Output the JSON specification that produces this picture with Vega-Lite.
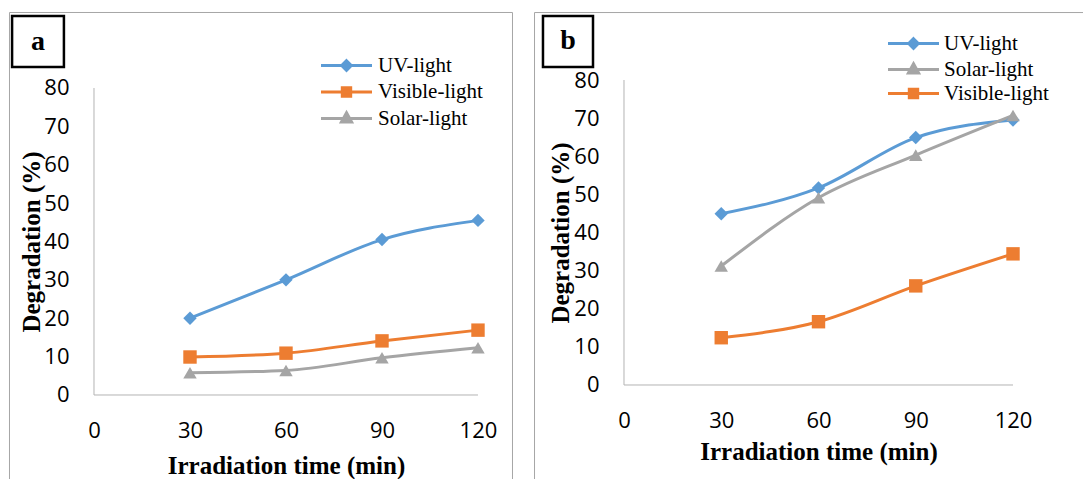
{
  "$schema": "https://vega.github.io/schema/vega-lite/v6.json",
  "padding": {"left": 8, "top": 11, "right": 0, "bottom": 0},
  "spacing": 21,
  "background": "white",
  "config": {"view": {"stroke": null}, "font": "Open Sans"},
  "data": {"values": [
    {"panel": "a", "series": "UV-light", "time": 30, "deg": 20.0},
    {"panel": "a", "series": "UV-light", "time": 60, "deg": 30.0},
    {"panel": "a", "series": "UV-light", "time": 90, "deg": 40.5},
    {"panel": "a", "series": "UV-light", "time": 120, "deg": 45.5},
    {"panel": "a", "series": "Visible-light", "time": 30, "deg": 9.9},
    {"panel": "a", "series": "Visible-light", "time": 60, "deg": 10.9},
    {"panel": "a", "series": "Visible-light", "time": 90, "deg": 14.1},
    {"panel": "a", "series": "Visible-light", "time": 120, "deg": 16.9},
    {"panel": "a", "series": "Solar-light", "time": 30, "deg": 5.8},
    {"panel": "a", "series": "Solar-light", "time": 60, "deg": 6.4},
    {"panel": "a", "series": "Solar-light", "time": 90, "deg": 9.7},
    {"panel": "a", "series": "Solar-light", "time": 120, "deg": 12.3},
    {"panel": "b", "series": "UV-light", "time": 30, "deg": 44.9},
    {"panel": "b", "series": "UV-light", "time": 60, "deg": 51.7},
    {"panel": "b", "series": "UV-light", "time": 90, "deg": 64.9},
    {"panel": "b", "series": "UV-light", "time": 120, "deg": 69.5},
    {"panel": "b", "series": "Solar-light", "time": 30, "deg": 31.2},
    {"panel": "b", "series": "Solar-light", "time": 60, "deg": 49.1},
    {"panel": "b", "series": "Solar-light", "time": 90, "deg": 60.3},
    {"panel": "b", "series": "Solar-light", "time": 120, "deg": 70.7},
    {"panel": "b", "series": "Visible-light", "time": 30, "deg": 12.4},
    {"panel": "b", "series": "Visible-light", "time": 60, "deg": 16.6},
    {"panel": "b", "series": "Visible-light", "time": 90, "deg": 26.0},
    {"panel": "b", "series": "Visible-light", "time": 120, "deg": 34.4}
  ]},
  "resolve": {"scale": {"x": "independent", "y": "independent", "color": "independent"}},
  "hconcat": [
    {
      "width": 504,
      "height": 468,
      "layer": [
        {
          "data": {"values": [{}]},
          "mark": {"type": "rule", "color": "#a6a6a6", "strokeWidth": 1},
          "encoding": {"x": {"datum": -26.41, "type": "quantitative"}, "y": {"datum": -22.15, "type": "quantitative"}, "y2": {"datum": 99.67}}
        },
        {
          "data": {"values": [{}]},
          "mark": {"type": "rule", "color": "#a6a6a6", "strokeWidth": 1},
          "encoding": {"x": {"datum": 130.78, "type": "quantitative"}, "y": {"datum": -22.15, "type": "quantitative"}, "y2": {"datum": 99.67}}
        },
        {
          "data": {"values": [{}]},
          "mark": {"type": "rule", "color": "#a6a6a6", "strokeWidth": 1},
          "encoding": {"y": {"datum": 99.67, "type": "quantitative"}, "x": {"datum": -26.41, "type": "quantitative"}, "x2": {"datum": 130.78}}
        },
        {
          "data": {"values": [{}]},
          "mark": {"type": "rule", "color": "#b3b3b3", "strokeWidth": 1},
          "encoding": {"x": {"datum": 0, "type": "quantitative"}, "y": {"datum": 0, "type": "quantitative"}, "y2": {"datum": 80}}
        },
        {
          "data": {"values": [{}]},
          "mark": {"type": "rule", "color": "#b3b3b3", "strokeWidth": 1},
          "encoding": {"y": {"datum": 0, "type": "quantitative"}, "x": {"datum": 0, "type": "quantitative"}, "x2": {"datum": 120}}
        },
        {
          "data": {"values": [{}]},
          "mark": {"type": "rect", "fill": "transparent", "stroke": "black", "strokeWidth": 2.5},
          "encoding": {"x": {"datum": -25.6, "type": "quantitative"}, "x2": {"datum": -9.4}, "y": {"datum": 98.76, "type": "quantitative"}, "y2": {"datum": 85.47}}
        },
        {
          "data": {"values": [{"label": "a"}]},
          "mark": {"type": "text", "font": "Liberation Serif", "fontWeight": "bold", "fontSize": 28, "align": "center", "baseline": "middle", "color": "black"},
          "encoding": {"text": {"field": "label"}, "x": {"datum": -17.5, "type": "quantitative"}, "y": {"datum": 92.0, "type": "quantitative"}}
        },
        {
          "transform": [{"filter": "datum.panel === 'a'"}],
          "mark": {"type": "line", "interpolate": "monotone", "strokeWidth": 3},
          "encoding": {
            "x": {"field": "time", "type": "quantitative",
              "scale": {"domain": [-26.5625, 130.94], "nice": false, "zero": false},
              "axis": {"values": [0, 30, 60, 90, 120], "offset": -85, "domain": false, "ticks": false, "grid": false,
                "labelFont": "Open Sans", "labelFontSize": 22, "labelColor": "black", "labelPadding": 25, "labelFlush": false, "labelOverlap": false,
                "title": "Irradiation time (min)", "titleFont": "Liberation Serif", "titleFontSize": 25, "titleFontWeight": "bold", "titleColor": "black", "titlePadding": 12, "titleX": 277}},
            "y": {"field": "deg", "type": "quantitative",
              "scale": {"domain": [-22.15, 99.8], "nice": false, "zero": false},
              "axis": {"values": [0, 10, 20, 30, 40, 50, 60, 70, 80], "offset": -85, "domain": false, "ticks": false, "grid": false,
                "labelFont": "Open Sans", "labelFontSize": 22, "labelColor": "black", "labelPadding": 25, "labelOverlap": false,
                "title": "Degradation (%)", "titleFont": "Liberation Serif", "titleFontSize": 25, "titleFontWeight": "bold", "titleColor": "black", "titlePadding": -1, "titleY": 229.5}},
            "color": {"field": "series", "type": "nominal",
              "scale": {"domain": ["UV-light", "Visible-light", "Solar-light"], "range": ["#5B9BD5", "#ED7D31", "#A5A5A5"]},
              "legend": {"orient": "none", "legendX": 327, "legendY": 43, "title": null,
                "labelFont": "Liberation Serif", "labelFontSize": 21, "labelColor": "black", "labelOffset": 21,
                "symbolSize": 144, "symbolStrokeWidth": 3, "rowPadding": 3.5,
                "encode": {"symbols": {"update": {
                  "shape": {"signal": "datum.value === 'UV-light' ? 'M-4.25,0H4.25M0,-0.8L0.8,0L0,0.8L-0.8,0Z' : datum.value === 'Visible-light' ? 'M-4.25,0H4.25M-0.7,-0.7H0.7V0.7H-0.7Z' : 'M-4.25,0H4.25M0,-0.95L0.85,0.6L-0.85,0.6Z'"},
                  "fill": {"signal": "datum.value === 'UV-light' ? '#5B9BD5' : datum.value === 'Visible-light' ? '#ED7D31' : '#A5A5A5'"},
                  "stroke": {"signal": "datum.value === 'UV-light' ? '#5B9BD5' : datum.value === 'Visible-light' ? '#ED7D31' : '#A5A5A5'"},
                  "strokeWidth": {"value": 3},
                  "opacity": {"value": 1}
                }}}}}
          }
        },
        {
          "transform": [{"filter": "datum.panel === 'a' && datum.series === 'UV-light'"}],
          "mark": {"type": "point", "filled": true, "size": 180, "opacity": 1, "shape": "diamond"},
          "encoding": {
            "x": {"field": "time", "type": "quantitative"},
            "y": {"field": "deg", "type": "quantitative"},
            "color": {"field": "series", "type": "nominal"}
          }
        },
        {
          "transform": [{"filter": "datum.panel === 'a' && datum.series === 'Visible-light'"}],
          "mark": {"type": "point", "filled": true, "size": 180, "opacity": 1, "shape": "square"},
          "encoding": {
            "x": {"field": "time", "type": "quantitative"},
            "y": {"field": "deg", "type": "quantitative"},
            "color": {"field": "series", "type": "nominal"}
          }
        },
        {
          "transform": [{"filter": "datum.panel === 'a' && datum.series === 'Solar-light'"}],
          "mark": {"type": "point", "filled": true, "size": 180, "opacity": 1, "shape": "triangle-up"},
          "encoding": {
            "x": {"field": "time", "type": "quantitative"},
            "y": {"field": "deg", "type": "quantitative"},
            "color": {"field": "series", "type": "nominal"}
          }
        }
      ]
    },
    {
      "width": 550,
      "height": 468,
      "layer": [
        {
          "data": {"values": [{}]},
          "mark": {"type": "rule", "color": "#a6a6a6", "strokeWidth": 1},
          "encoding": {"x": {"datum": -27.6, "type": "quantitative"}, "y": {"datum": -24.92, "type": "quantitative"}, "y2": {"datum": 97.7}}
        },
        {
          "data": {"values": [{}]},
          "mark": {"type": "rule", "color": "#a6a6a6", "strokeWidth": 1},
          "encoding": {"y": {"datum": 97.7, "type": "quantitative"}, "x": {"datum": -27.6, "type": "quantitative"}, "x2": {"datum": 141.9}}
        },
        {
          "data": {"values": [{}]},
          "mark": {"type": "rule", "color": "#b3b3b3", "strokeWidth": 1},
          "encoding": {"x": {"datum": 0, "type": "quantitative"}, "y": {"datum": 0, "type": "quantitative"}, "y2": {"datum": 80}}
        },
        {
          "data": {"values": [{}]},
          "mark": {"type": "rule", "color": "#b3b3b3", "strokeWidth": 1},
          "encoding": {"y": {"datum": 0, "type": "quantitative"}, "x": {"datum": 0, "type": "quantitative"}, "x2": {"datum": 120}}
        },
        {
          "data": {"values": [{}]},
          "mark": {"type": "rect", "fill": "transparent", "stroke": "black", "strokeWidth": 2.5},
          "encoding": {"x": {"datum": -24.99, "type": "quantitative"}, "x2": {"datum": -9.56}, "y": {"datum": 96.79, "type": "quantitative"}, "y2": {"datum": 83.41}}
        },
        {
          "data": {"values": [{"label": "b"}]},
          "mark": {"type": "text", "font": "Liberation Serif", "fontWeight": "bold", "fontSize": 28, "align": "center", "baseline": "middle", "color": "black"},
          "encoding": {"text": {"field": "label"}, "x": {"datum": -17.27, "type": "quantitative"}, "y": {"datum": 90.2, "type": "quantitative"}}
        },
        {
          "transform": [{"filter": "datum.panel === 'b'"}],
          "mark": {"type": "line", "interpolate": "monotone", "strokeWidth": 3},
          "encoding": {
            "x": {"field": "time", "type": "quantitative",
              "scale": {"domain": [-27.76, 141.9], "nice": false, "zero": false},
              "axis": {"values": [0, 30, 60, 90, 120], "offset": -95, "domain": false, "ticks": false, "grid": false,
                "labelFont": "Open Sans", "labelFontSize": 22, "labelColor": "black", "labelPadding": 25, "labelFlush": false, "labelOverlap": false,
                "title": "Irradiation time (min)", "titleFont": "Liberation Serif", "titleFontSize": 25, "titleFontWeight": "bold", "titleColor": "black", "titlePadding": 8, "titleX": 284.5}},
            "y": {"field": "deg", "type": "quantitative",
              "scale": {"domain": [-24.92, 97.84], "nice": false, "zero": false},
              "axis": {"values": [0, 10, 20, 30, 40, 50, 60, 70, 80], "offset": -90, "domain": false, "ticks": false, "grid": false,
                "labelFont": "Open Sans", "labelFontSize": 22, "labelColor": "black", "labelPadding": 25, "labelOverlap": false,
                "title": "Degradation (%)", "titleFont": "Liberation Serif", "titleFontSize": 25, "titleFontWeight": "bold", "titleColor": "black", "titlePadding": 0, "titleY": 220.5}},
            "color": {"field": "series", "type": "nominal",
              "scale": {"domain": ["UV-light", "Solar-light", "Visible-light"], "range": ["#5B9BD5", "#A5A5A5", "#ED7D31"]},
              "legend": {"orient": "none", "legendX": 369, "legendY": 21, "title": null,
                "labelFont": "Liberation Serif", "labelFontSize": 21, "labelColor": "black", "labelOffset": 20,
                "symbolSize": 144, "symbolStrokeWidth": 3, "rowPadding": 2,
                "encode": {"symbols": {"update": {
                  "shape": {"signal": "datum.value === 'UV-light' ? 'M-4.25,0H4.25M0,-0.8L0.8,0L0,0.8L-0.8,0Z' : datum.value === 'Visible-light' ? 'M-4.25,0H4.25M-0.7,-0.7H0.7V0.7H-0.7Z' : 'M-4.25,0H4.25M0,-0.95L0.85,0.6L-0.85,0.6Z'"},
                  "fill": {"signal": "datum.value === 'UV-light' ? '#5B9BD5' : datum.value === 'Visible-light' ? '#ED7D31' : '#A5A5A5'"},
                  "stroke": {"signal": "datum.value === 'UV-light' ? '#5B9BD5' : datum.value === 'Visible-light' ? '#ED7D31' : '#A5A5A5'"},
                  "strokeWidth": {"value": 3},
                  "opacity": {"value": 1}
                }}}}}
          }
        },
        {
          "transform": [{"filter": "datum.panel === 'b' && datum.series === 'UV-light'"}],
          "mark": {"type": "point", "filled": true, "size": 180, "opacity": 1, "shape": "diamond"},
          "encoding": {
            "x": {"field": "time", "type": "quantitative"},
            "y": {"field": "deg", "type": "quantitative"},
            "color": {"field": "series", "type": "nominal"}
          }
        },
        {
          "transform": [{"filter": "datum.panel === 'b' && datum.series === 'Solar-light'"}],
          "mark": {"type": "point", "filled": true, "size": 180, "opacity": 1, "shape": "triangle-up"},
          "encoding": {
            "x": {"field": "time", "type": "quantitative"},
            "y": {"field": "deg", "type": "quantitative"},
            "color": {"field": "series", "type": "nominal"}
          }
        },
        {
          "transform": [{"filter": "datum.panel === 'b' && datum.series === 'Visible-light'"}],
          "mark": {"type": "point", "filled": true, "size": 180, "opacity": 1, "shape": "square"},
          "encoding": {
            "x": {"field": "time", "type": "quantitative"},
            "y": {"field": "deg", "type": "quantitative"},
            "color": {"field": "series", "type": "nominal"}
          }
        }
      ]
    }
  ]
}
